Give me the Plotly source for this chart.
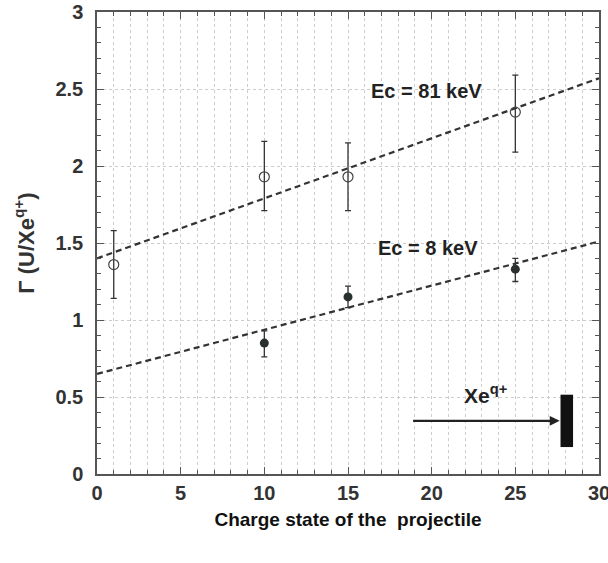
import plotly.graph_objects as go

# Data: Ec = 81 keV (open circles)
q_81 = [1, 10, 15, 25]
g_81 = [1.36, 1.93, 1.93, 2.35]
err_hi_81 = [0.22, 0.23, 0.22, 0.24]
err_lo_81 = [0.22, 0.22, 0.22, 0.26]

# Data: Ec = 8 keV (filled circles)
q_8 = [10, 15, 25]
g_8 = [0.85, 1.15, 1.33]
err_hi_8 = [0.08, 0.07, 0.07]
err_lo_8 = [0.09, 0.07, 0.08]

# Fitted lines (end points)
fit_x = [0, 30]
fit_81 = [1.40, 2.57]
fit_8 = [0.65, 1.51]

# Target / arrow decoration
arrow_x = [18.8, 27.65]
arrow_y = 0.345
target_x = [27.7, 28.45]
target_y = [0.175, 0.515]

FONT = "Liberation Sans"
INK = "#333333"

fig = go.Figure()

fig.add_trace(go.Scatter(x=fit_x, y=fit_81, mode="lines",
                         line=dict(color=INK, width=2.2, dash="6px,4px"),
                         showlegend=False, hoverinfo="skip"))
fig.add_trace(go.Scatter(x=fit_x, y=fit_8, mode="lines",
                         line=dict(color=INK, width=2.2, dash="6px,4px"),
                         showlegend=False, hoverinfo="skip"))

fig.add_trace(go.Scatter(
    x=q_81, y=g_81, mode="markers",
    marker=dict(symbol="circle-open", size=10, color="#444444", line=dict(width=1.2)),
    error_y=dict(type="data", symmetric=False, array=err_hi_81, arrayminus=err_lo_81,
                 color="#333333", thickness=1.3, width=3),
    showlegend=False))

fig.add_trace(go.Scatter(
    x=q_8, y=g_8, mode="markers",
    marker=dict(symbol="circle", size=9, color="#2a2f2f"),
    error_y=dict(type="data", symmetric=False, array=err_hi_8, arrayminus=err_lo_8,
                 color="#333333", thickness=1.3, width=3),
    showlegend=False))

fig.add_shape(type="rect", xref="x", yref="y",
              x0=target_x[0], x1=target_x[1], y0=target_y[0], y1=target_y[1],
              fillcolor="#111111", line=dict(width=0))

fig.add_annotation(x=arrow_x[1], y=arrow_y, ax=arrow_x[0], ay=arrow_y,
                   xref="x", yref="y", axref="x", ayref="y",
                   text="", showarrow=True, arrowhead=2, arrowsize=0.9,
                   arrowwidth=2.2, arrowcolor="#222222")

fig.add_annotation(x=19.7, y=2.49, xref="x", yref="y", text="<b>Ec = 81 keV</b>",
                   showarrow=False, font=dict(family=FONT, size=20, color="#222222"))
fig.add_annotation(x=19.8, y=1.47, xref="x", yref="y", text="<b>Ec = 8 keV</b>",
                   showarrow=False, font=dict(family=FONT, size=20, color="#222222"))
fig.add_annotation(x=23.2, y=0.52, xref="x", yref="y", text="<b>Xe<sup>q+</sup></b>",
                   showarrow=False, font=dict(family=FONT, size=21, color="#222222"))

axis_common = dict(
    showline=True, linecolor="#555555", linewidth=1.5, mirror="ticks",
    ticks="inside", ticklen=7, tickwidth=1.2, tickcolor="#555555",
    tickfont=dict(family=FONT, size=20, color=INK, weight="bold"),
    showgrid=True, gridcolor="#cccccc", griddash="dot", gridwidth=1,
    zeroline=False, automargin=False, ticklabeloverflow="allow",
)

fig.update_xaxes(range=[0, 30], dtick=5, tick0=0, ticklabelstandoff=0,
                 minor=dict(dtick=1, ticks="inside", ticklen=4, tickcolor="#555555",
                            showgrid=True, gridcolor="#cccccc", griddash="dot"),
                 title=dict(text="<b>Charge state of the  projectile</b>",
                            font=dict(family=FONT, size=19, color="#111111"), standoff=10),
                 **axis_common)
fig.update_yaxes(range=[0, 3], dtick=0.5, tick0=0, ticklabelstandoff=8,
                 minor=dict(dtick=0.1, ticks="inside", ticklen=4, tickcolor="#555555",
                            showgrid=False),
                 title=dict(text="<b>Γ (U/Xe<sup>q+</sup>)</b>",
                            font=dict(family=FONT, size=22, color=INK), standoff=15),
                 **axis_common)

fig.update_layout(width=608, height=563, plot_bgcolor="white", paper_bgcolor="white",
                  margin=dict(l=97, r=9, t=12, b=89, autoexpand=False))

# remove the default 8px page margin so the figure fills the window exactly
fig.write_html("out.html",
               config={"displayModeBar": False},
               post_script="document.body.style.margin='0';document.body.style.overflow='hidden';")
